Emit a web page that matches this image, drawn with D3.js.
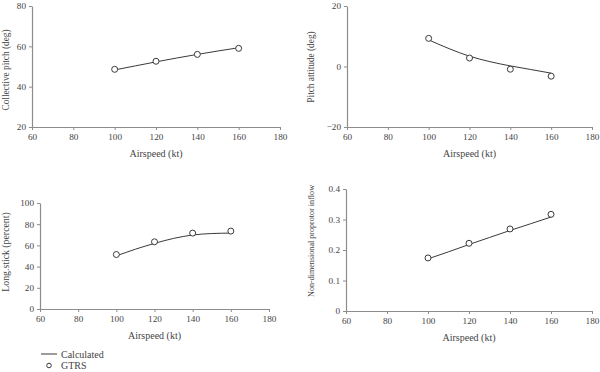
<!DOCTYPE html>
<html lang="en">
<head>
  <meta charset="UTF-8">
  <title>Trim results</title>
  <style>
    body { margin: 0; background: #ffffff; }
    svg { display: block; background: #ffffff; }
    text { font-family: "Liberation Serif", "DejaVu Serif", serif; fill: #444444; }
    .axis path, .axis line { stroke: #8c8c8c; }
    .axis text { font-size: 9.2px; fill: #444444; font-family: "Liberation Serif", serif; }
  </style>
  <script type="text/javascript" src="https://d3js.org/d3.v7.min.js"></script>
</head>
<body>
<script type="text/javascript">

  // airspeed (kt) of the GTRS trim points
  var speeds = [100, 120, 140, 160];
  var calcSpeeds = [100, 110, 120, 130, 140, 150, 160];

  // collective pitch (deg)
  var collectiveGtrs = [48.6, 52.6, 56.0, 59.0];
  var collectiveCalc = [48.3, 50.3, 52.3, 54.2, 56.0, 57.7, 59.3];

  // pitch attitude (deg)
  var pitchGtrs = [9.3, 2.8, -0.9, -3.2];
  var pitchCalc = [8.8, 5.9, 3.4, 1.6, 0.2, -1.0, -2.2];

  // long. stick (percent)
  var stickGtrs = [51.4, 63.4, 71.6, 73.5];
  var stickCalc = [50.1, 56.4, 61.9, 66.6, 69.8, 71.2, 71.6];

  // non-dimensional proprotor inflow
  var inflowGtrs = [0.174, 0.222, 0.269, 0.317];
  var inflowCalc = [0.171, 0.194, 0.218, 0.241, 0.264, 0.286, 0.308];

  var xTicks = [60, 80, 100, 120, 140, 160, 180];

  var svg = d3.select("body")
    .append("svg")
    .attr("width", 600)
    .attr("height", 372);

  var panels = [
    {x0: 32, x1: 280, y0: 127, y1: 6, dom: [20, 80], ticks: [20, 40, 60, 80],
     fmt: d3.format("d"), gtrs: collectiveGtrs, calc: collectiveCalc,
     title: "Collective pitch (deg)", tx: 9, ty: 70, ts: 9.3},
    {x0: 347, x1: 592, y0: 127, y1: 6, dom: [-20, 20], ticks: [-20, 0, 20],
     fmt: function(d) { return d < 0 ? "\u2212" + Math.abs(d) : d; },
     gtrs: pitchGtrs, calc: pitchCalc,
     title: "Pitch attitude (deg)", tx: 314, ty: 67, ts: 9.3},
    {x0: 40, x1: 269, y0: 309, y1: 203, dom: [0, 100], ticks: [0, 20, 40, 60, 80, 100],
     fmt: d3.format("d"), gtrs: stickGtrs, calc: stickCalc,
     title: "Long.stick (percent)", tx: 9, ty: 252, ts: 9.8},
    {x0: 346, x1: 592, y0: 311, y1: 189, dom: [0, 0.4], ticks: [0, 0.1, 0.2, 0.3, 0.4],
     fmt: function(d) { return d === 0 ? "0" : d3.format(".1f")(d); },
     gtrs: inflowGtrs, calc: inflowCalc,
     title: "Non-dimensional proprotor inflow", tx: 314, ty: 241, ts: 8.1}
  ];

  panels.forEach(function(p) {
    var x = d3.scaleLinear().domain([60, 180]).range([p.x0, p.x1]);
    var y = d3.scaleLinear().domain(p.dom).range([p.y0, p.y1]);
    var g = svg.append("g");

    g.append("g")
      .attr("class", "axis")
      .attr("transform", "translate(0," + p.y0 + ")")
      .call(d3.axisBottom(x).tickValues(xTicks).tickSize(3).tickSizeOuter(0).tickPadding(3.5));

    g.append("g")
      .attr("class", "axis")
      .attr("transform", "translate(" + p.x0 + ",0)")
      .call(d3.axisLeft(y).tickValues(p.ticks).tickFormat(p.fmt).tickSize(3).tickSizeOuter(0).tickPadding(3));

    g.selectAll(".axis path").attr("stroke-width", 1.2);

    g.append("text")
      .attr("x", (p.x0 + p.x1) / 2)
      .attr("y", p.y0 + 30)
      .attr("text-anchor", "middle")
      .style("font-size", "10px")
      .text("Airspeed (kt)");

    g.append("text")
      .attr("transform", "translate(" + p.tx + "," + p.ty + ") rotate(-90)")
      .attr("text-anchor", "middle")
      .style("font-size", p.ts + "px")
      .text(p.title);

    var line = d3.line()
      .x(function(d, i) { return x(calcSpeeds[i]); })
      .y(function(d) { return y(d); })
      .curve(d3.curveMonotoneX);

    g.append("path")
      .datum(p.calc)
      .attr("d", line)
      .attr("fill", "none")
      .attr("stroke", "#3a3a3a")
      .attr("stroke-width", 1);

    g.selectAll("circle")
      .data(p.gtrs)
      .enter()
      .append("circle")
      .attr("cx", function(d, i) { return x(speeds[i]); })
      .attr("cy", function(d) { return y(d); })
      .attr("r", 3)
      .attr("fill", "#ffffff")
      .attr("stroke", "#3a3a3a")
      .attr("stroke-width", 1);
  });

  // legend
  var legend = svg.append("g");
  legend.append("line")
    .attr("x1", 41).attr("x2", 57)
    .attr("y1", 354).attr("y2", 354)
    .attr("stroke", "#3a3a3a");
  legend.append("text")
    .attr("x", 61).attr("y", 357.5)
    .style("font-size", "10px")
    .text("Calculated");
  legend.append("circle")
    .attr("cx", 49).attr("cy", 365.5).attr("r", 2.3)
    .attr("fill", "#ffffff").attr("stroke", "#3a3a3a");
  legend.append("text")
    .attr("x", 61).attr("y", 369)
    .style("font-size", "10px")
    .text("GTRS");

</script>
</body>
</html>
